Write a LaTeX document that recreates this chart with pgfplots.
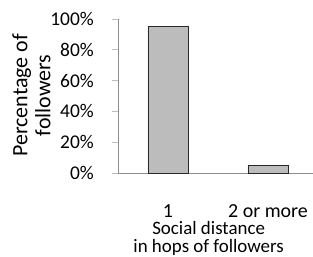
\documentclass[border=0pt]{standalone}
\usepackage{pgfplots}
\pgfplotsset{compat=1.18}
\usepackage{fontspec}
\setmainfont{Carlito}
\definecolor{axgray}{RGB}{140,140,140}
\definecolor{tickgray}{RGB}{190,190,190}
\definecolor{barfill}{RGB}{188,188,188}
\definecolor{baredge}{RGB}{40,40,40}
\begin{document}
\begin{tikzpicture}
\begin{axis}[
  scale only axis,
  width=195bp, height=154bp,
  at={(0,0)}, anchor=south west,
  xmin=-0.5, xmax=1.45,
  ymin=0, ymax=100,
  axis x line=bottom, axis y line=left,
  axis line style={axgray, line width=0.8pt, -},
  ybar, bar width=40bp,
  xtick={0,1}, xticklabels={1,2 or more},
  xtick style={draw=none},
  ytick={0,20,40,60,80,100},
  yticklabels={0\%,20\%,40\%,60\%,80\%,100\%},
  ytick style={tickgray, line width=0.8pt},
  tick align=outside,
  major tick length=6bp,
  yticklabel style={font=\fontsize{19.5}{20}\selectfont, anchor=east, inner sep=0pt, xshift=-18bp},
  xticklabel style={font=\fontsize{20}{20}\selectfont, anchor=base, inner sep=0pt, yshift=-38bp},
  xlabel={Social distance\\in hops of followers},
  xlabel style={font=\fontsize{19}{18.3}\selectfont, align=center, inner sep=0pt,
    at={(axis description cs:0.465,0)}, anchor=north, yshift=-48bp},
  ylabel={Percentage of\\followers},
  ylabel style={font=\fontsize{22}{23}\selectfont, align=center, inner sep=0pt,
    at={(axis description cs:-0.4436,0.505)}, anchor=center},
  clip=false,
]
\addplot[draw=baredge, line width=1pt, fill=barfill] coordinates {(0,95) (1,5)};
\end{axis}
\pgfresetboundingbox
\useasboundingbox (-118bp,-84bp) rectangle (195bp,173bp);
\end{tikzpicture}
\end{document}
